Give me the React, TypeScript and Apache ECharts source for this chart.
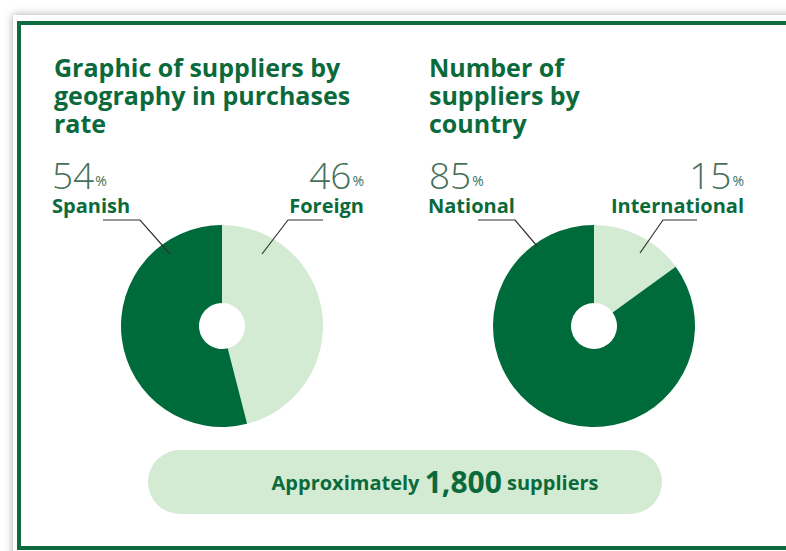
import React, { useEffect, useRef } from "react";
import * as echarts from "echarts";

// ---- data ----
const geoTitle = "Graphic of suppliers by\ngeography in purchases\nrate";
const geoCategories = ["Foreign", "Spanish"];
const geoValues = [46, 54];

const countryTitle = "Number of\nsuppliers by\ncountry";
const countryCategories = ["International", "National"];
const countryValues = [15, 85];

const totalPrefix = "Approximately ";
const totalValue = "1,800";
const totalSuffix = " suppliers";

// ---- styles ----
const DARK = "#006b3a";
const LIGHT = "#d3ead3";
const TEXT_GREEN = "#0b6a3c";
const PCT_COLOR = "#45705a";
const FONT = "'Open Sans', sans-serif";

function pctLabel(value: number, x: number, y: number, align: "left" | "right") {
  return {
    type: "text",
    x,
    y,
    style: {
      text: `{n|${value}}{p|%}`,
      align,
      verticalAlign: "bottom",
      rich: {
        n: { fontFamily: FONT, fontSize: 37, fontWeight: 300, fill: PCT_COLOR, lineHeight: 34, verticalAlign: "bottom" },
        p: { fontFamily: FONT, fontSize: 14, fontWeight: 400, fill: PCT_COLOR, lineHeight: 34, verticalAlign: "bottom", padding: [0, 0, 6, 1] },
      },
    },
  };
}

function nameLabel(name: string, x: number, y: number, align: "left" | "right") {
  return {
    type: "text",
    x,
    y,
    style: {
      text: name,
      align,
      verticalAlign: "middle",
      fontFamily: FONT,
      fontSize: 20,
      fontWeight: "bold",
      fill: TEXT_GREEN,
    },
  };
}

function leader(points: number[][]) {
  return {
    type: "polyline",
    shape: { points },
    style: { stroke: "#333", lineWidth: 1.2, fill: null },
    z: 10,
  };
}

export default function App() {
  const ref = useRef<HTMLDivElement>(null);

  useEffect(() => {
    if (!ref.current) return;
    const chart = echarts.init(ref.current, null, { renderer: "svg" });

    const pieCommon = {
      type: "pie",
      radius: [23, 101],
      startAngle: 90,
      clockwise: true,
      label: { show: false },
      labelLine: { show: false },
      emphasis: { disabled: true },
      silent: true,
      itemStyle: { borderWidth: 0 },
      z: 5,
    };

    const titleStyle = { fontFamily: FONT, fontSize: 25, fontWeight: "bold", color: TEXT_GREEN, lineHeight: 28 };

    chart.setOption({
      animation: false,
      backgroundColor: "#ffffff",
      title: [
        { text: geoTitle, left: 49, top: 48, textStyle: titleStyle },
        { text: countryTitle, left: 424, top: 48, textStyle: titleStyle },
      ],
      series: [
        {
          ...pieCommon,
          name: "geography",
          center: [222, 326],
          data: geoCategories.map((c, i) => ({
            name: c,
            value: geoValues[i],
            itemStyle: { color: i === 0 ? LIGHT : DARK },
          })),
        },
        {
          ...pieCommon,
          name: "country",
          center: [594, 326],
          data: countryCategories.map((c, i) => ({
            name: c,
            value: countryValues[i],
            itemStyle: { color: i === 0 ? LIGHT : DARK },
          })),
        },
      ],
      graphic: [
        // card with shadow
        {
          type: "rect",
          shape: { x: 13, y: 15, width: 820, height: 560 },
          style: { fill: "#ffffff", shadowBlur: 8, shadowColor: "rgba(0,0,0,0.35)" },
          z: -10,
          silent: true,
        },
        {
          type: "rect",
          shape: { x: 19, y: 23, width: 820, height: 525 },
          style: { fill: "none", stroke: "#0f6b3e", lineWidth: 4 },
          z: -9,
          silent: true,
        },
        // labels - geography
        pctLabel(geoValues[1], 52, 193, "left"),
        nameLabel(geoCategories[1], 52, 205, "left"),
        pctLabel(geoValues[0], 364, 193, "right"),
        nameLabel(geoCategories[0], 364, 205, "right"),
        leader([[103, 220], [140, 220], [170, 254]]),
        leader([[323, 220], [288, 220], [262, 254]]),
        // labels - country
        pctLabel(countryValues[1], 429, 193, "left"),
        nameLabel(countryCategories[1], 428, 205, "left"),
        pctLabel(countryValues[0], 744, 193, "right"),
        nameLabel(countryCategories[0], 744, 205, "right"),
        leader([[478, 220], [515, 220], [537, 246]]),
        leader([[697, 220], [663, 220], [640, 253]]),
        // bottom pill
        {
          type: "rect",
          shape: { x: 148, y: 450, width: 514, height: 64, r: 32 },
          style: { fill: LIGHT },
          z: 1,
        },
        {
          type: "text",
          x: 435,
          y: 478,
          z: 2,
          style: {
            text: `{a|${totalPrefix}}{b|${totalValue}}{a|${totalSuffix}}`,
            align: "center",
            verticalAlign: "middle",
            rich: {
              a: { fontFamily: FONT, fontSize: 20, fontWeight: "bold", fill: TEXT_GREEN, lineHeight: 36, verticalAlign: "bottom", padding: [0, 0, 4, 0] },
              b: { fontFamily: FONT, fontSize: 30, fontWeight: "bold", fill: TEXT_GREEN, lineHeight: 36, verticalAlign: "bottom" },
            },
          },
        },
      ],
    });

    return () => chart.dispose();
  }, []);

  return (
    <div
      ref={ref}
      style={{ position: "fixed", left: 0, top: 0, width: 786, height: 551 }}
    />
  );
}
